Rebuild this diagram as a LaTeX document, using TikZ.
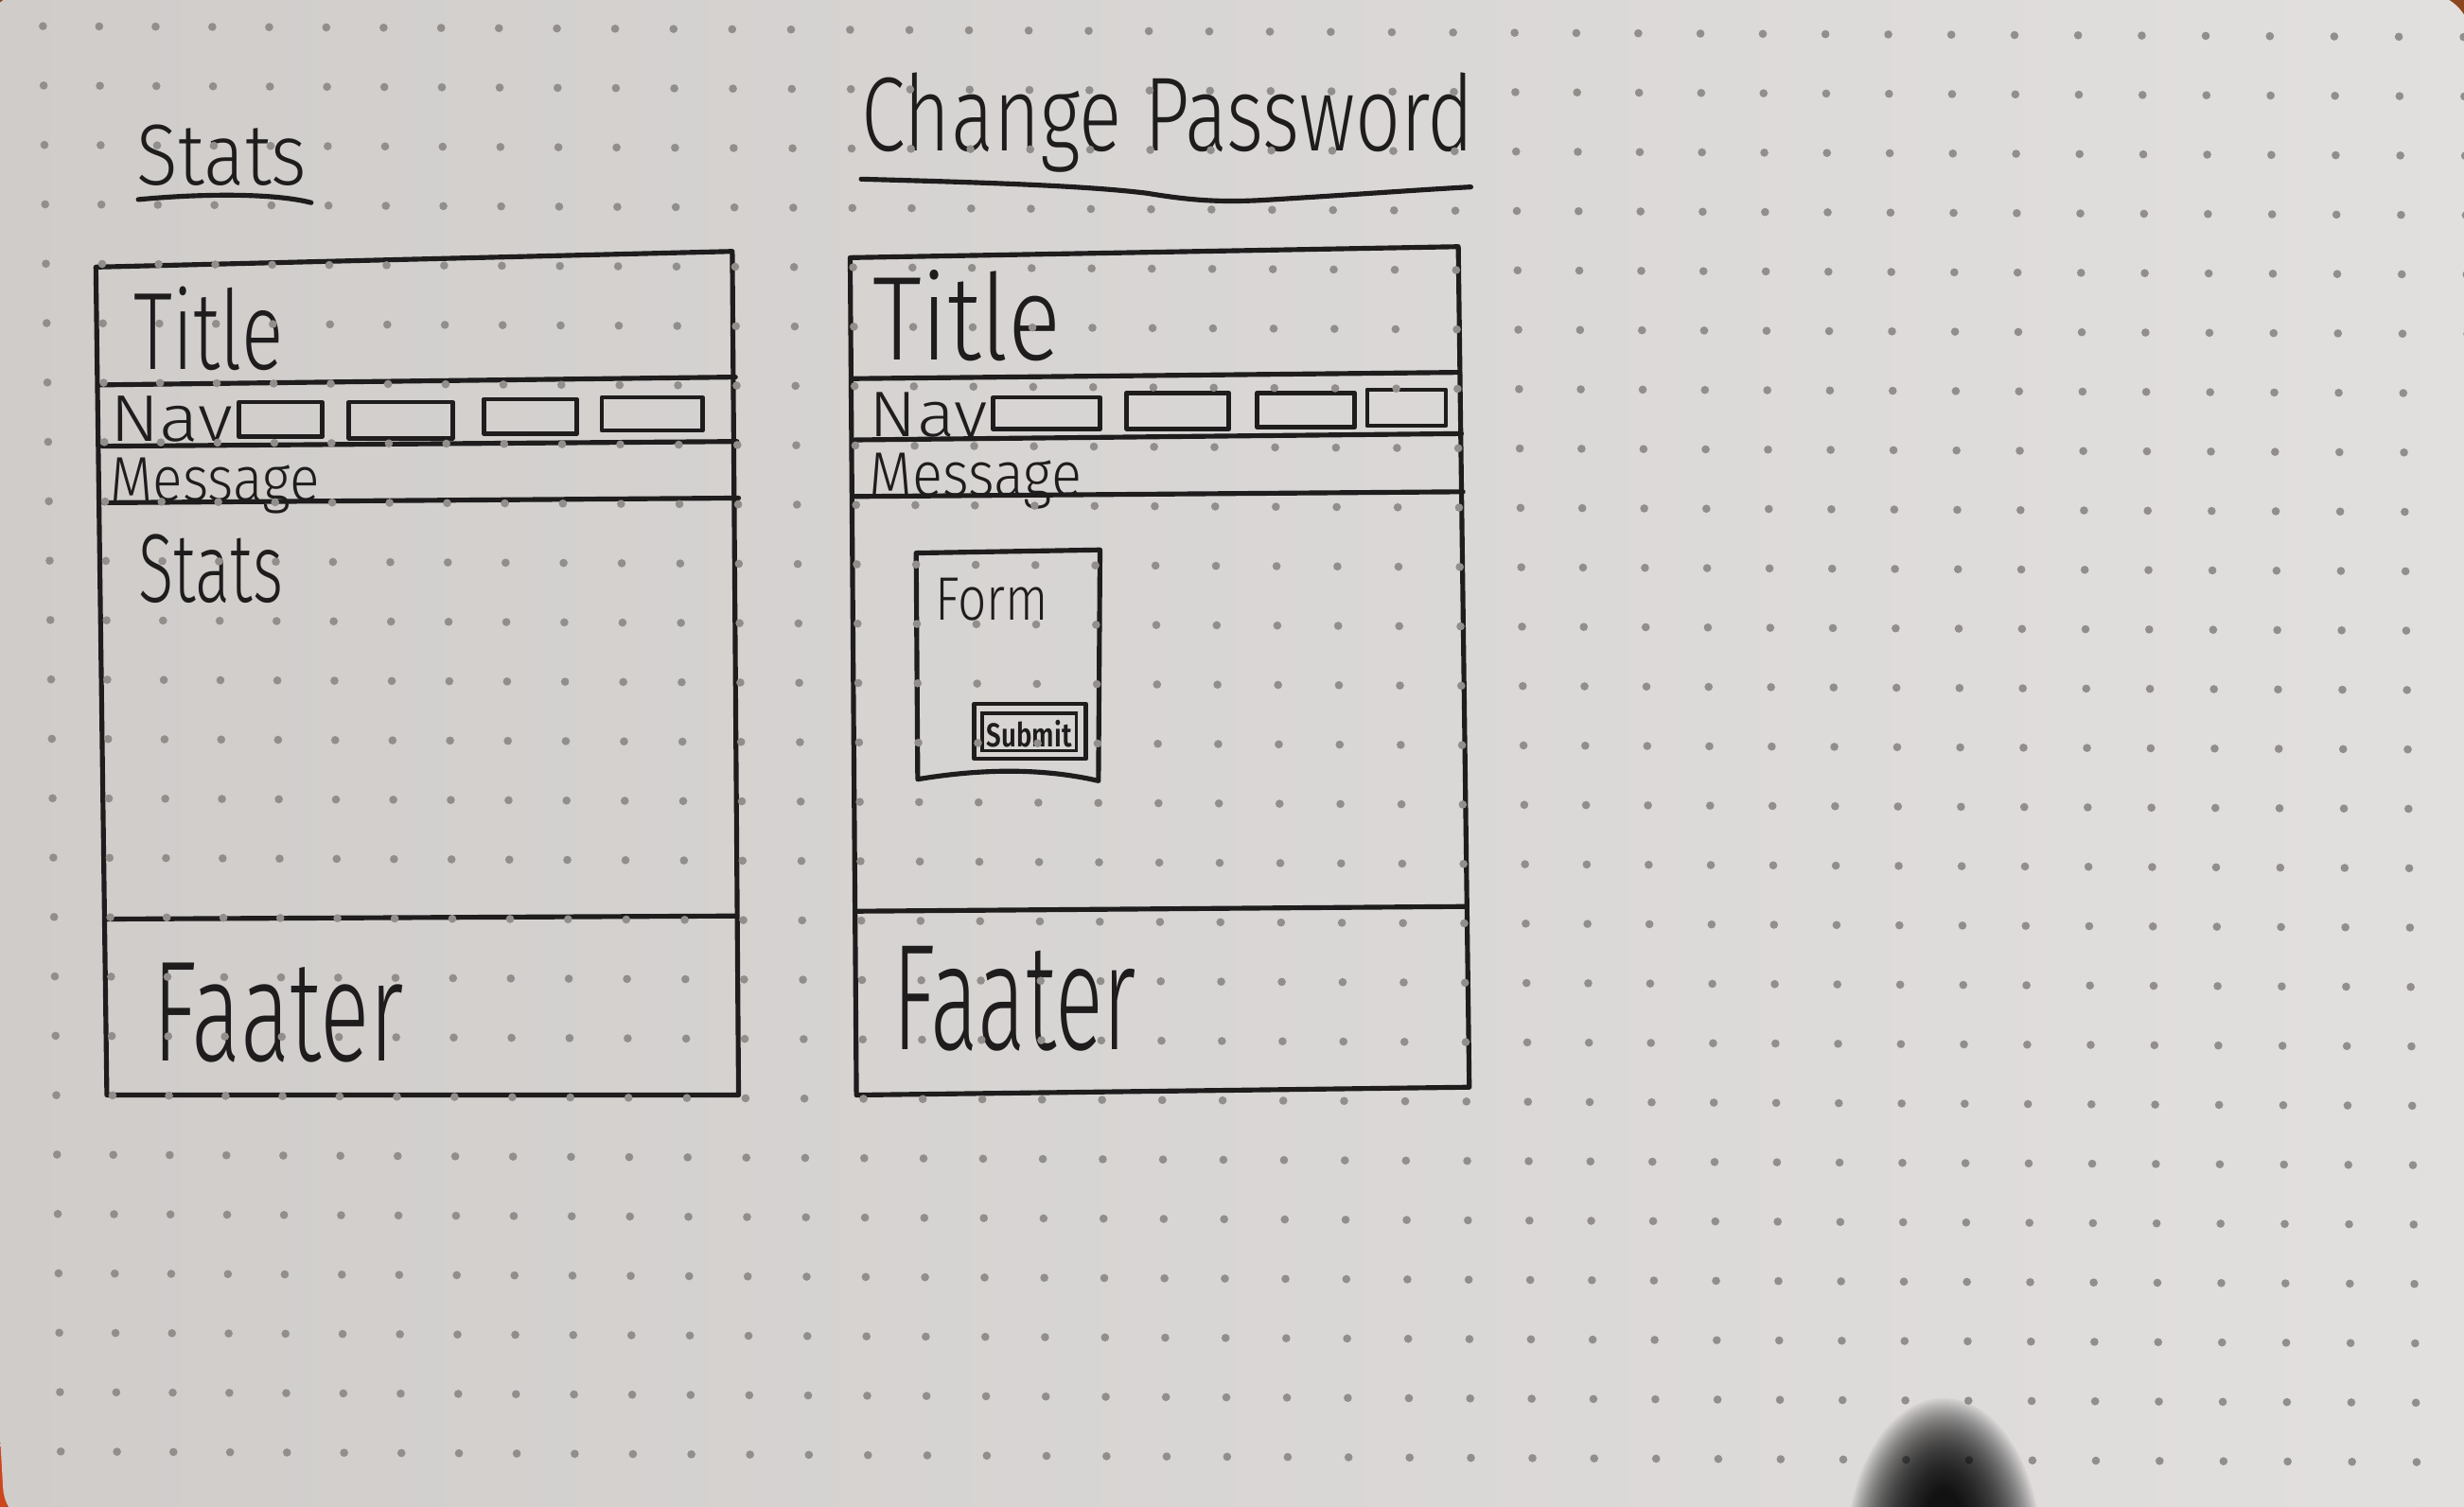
\documentclass[tikz,border=0pt]{standalone}
\usepackage{fontspec}
\usepackage{graphicx}
\IfFontExistsTF{Fira Sans Light}{\newfontfamily\hand{Fira Sans Light}}{\newfontfamily\hand{Fira Sans}}
\newcommand\handtext[3]{\resizebox{#1pt}{\height}{\hand\fontsize{#2pt}{#2pt}\selectfont #3}}
\definecolor{paperL}{RGB}{207,204,202}
\definecolor{paperR}{RGB}{226,224,223}
\definecolor{ink}{RGB}{30,28,28}
\definecolor{dotc}{RGB}{146,142,139}
\definecolor{desk}{RGB}{140,70,30}
\definecolor{deskred}{RGB}{205,70,30}
\tikzset{
  ink/.style={draw=ink, line width=3.1pt, line cap=round, line join=round},
  navbox/.style={draw=ink, line width=2.8pt, line join=round},
  label/.style={inner sep=0pt, anchor=base west, text=ink},
}
\begin{document}
\begin{tikzpicture}[x=1pt,y=-1pt]
\useasboundingbox (0,0) rectangle (1568,959);
% desk and card
\fill[desk] (0,0) rectangle (1568,959);
\fill[deskred] (0,880) rectangle (4,959);
\shade[left color=paperL, right color=paperR, rounded corners=28pt]
  (-10,-5) -- (1572,-4) -- (1580,975) -- (3.5,975) -- (-3,860) -- cycle;

% ---- Stats page ----
\node[label] (hstats) at (87,118) {\handtext{108}{55}{Stats}};
\draw[ink] (88,127) .. controls (130,123) and (175,123) .. (198,129);

\draw[ink] (61,170) -- (466,160) -- (470,697) -- (68,697) -- cycle;
\draw[ink] (63,245) -- (468,240);
\draw[ink] (65,284) -- (469,281);
\draw[ink] (66,320) -- (470,317);
\draw[ink] (67,585) -- (469,583);

\node[label] (ltitle) at (85,235) {\handtext{95}{70}{Title}};
\node[label] (lnav) at (70,281) {\handtext{78}{42}{Nav}};
\draw[navbox] (152,256) rectangle (205,278);
\draw[navbox] (222,256) rectangle (288,279);
\draw[navbox] (308,254) rectangle (367,276);
\draw[navbox] (383,253) rectangle (447,274);
\node[label] (lmsg) at (70,319) {\handtext{133}{40}{Message}};
\node[label] (lstats) at (88,383) {\handtext{92}{62}{Stats}};
\node[label] (lfoot) at (97,675) {\handtext{160}{91}{Faater}};

% ---- Change Password page ----
\node[label] (hchange) at (548,96) {\handtext{390}{67}{Change Password}};
\draw[ink] (548,114) .. controls (620,116) and (690,118) .. (730,123)
  .. controls (760,128) and (780,129) .. (810,127)
  .. controls (860,124) and (900,121) .. (936,119);

\draw[ink] (541,164) -- (928,157) -- (935,692) -- (545,697) -- cycle;
\draw[ink] (543,241) -- (929,237);
\draw[ink] (544,280) -- (930,276);
\draw[ink] (544,316) -- (931,313);
\draw[ink] (545,580) -- (932,577);

\node[label] (rtitle) at (555,229) {\handtext{120}{76}{Title}};
\node[label] (rnav) at (553,278) {\handtext{75}{41}{Nav}};
\draw[navbox] (632,253) rectangle (700,273);
\draw[navbox] (717,250) rectangle (782,273);
\draw[navbox] (800,250) rectangle (862,272);
\draw[navbox] (870,248) rectangle (920,271);
\node[label] (rmsg) at (553,316) {\handtext{135}{40}{Message}};

% form with its button
\draw[ink] (583,352) -- (700,350) -- (699,497)
  .. controls (660,488) and (620,490) .. (584,496) -- cycle;
\node[label] (form) at (595,395) {\handtext{72}{39}{Form}};
\draw[navbox] (620,448) rectangle (691,483);
\draw[draw=ink, line width=2pt] (625,454) rectangle (685,478);
\node[inner sep=0pt, text=ink] (submit) at (655,467)
  {\resizebox{54pt}{17pt}{\hand\bfseries Submit}};

\node[label] (rfoot) at (568,668) {\handtext{155}{96}{Faater}};

% dot grid printed on the card
\foreach \j in {-4,...,21}{
  \foreach \i in {-1,...,40}{
    \pgfmathsetmacro\yy{168+37.8*\j}
    \pgfmathsetmacro\xx{65+35.85*\i+0.07*\i*\i+0.0125*(\yy-168)}
    \pgfmathsetmacro\yyy{\yy+0.0045*(\xx-65)}
    \fill[dotc] (\xx,\yyy) circle (2.6);
  }
}

% pen tip shadow, built up from many faint layers
\foreach \k in {0,...,39}{
  \fill[black, opacity=0.05] (1237,990) ellipse ({62-1.2*\k} and {100-1.5*\k});
}
\end{tikzpicture}
\end{document}
